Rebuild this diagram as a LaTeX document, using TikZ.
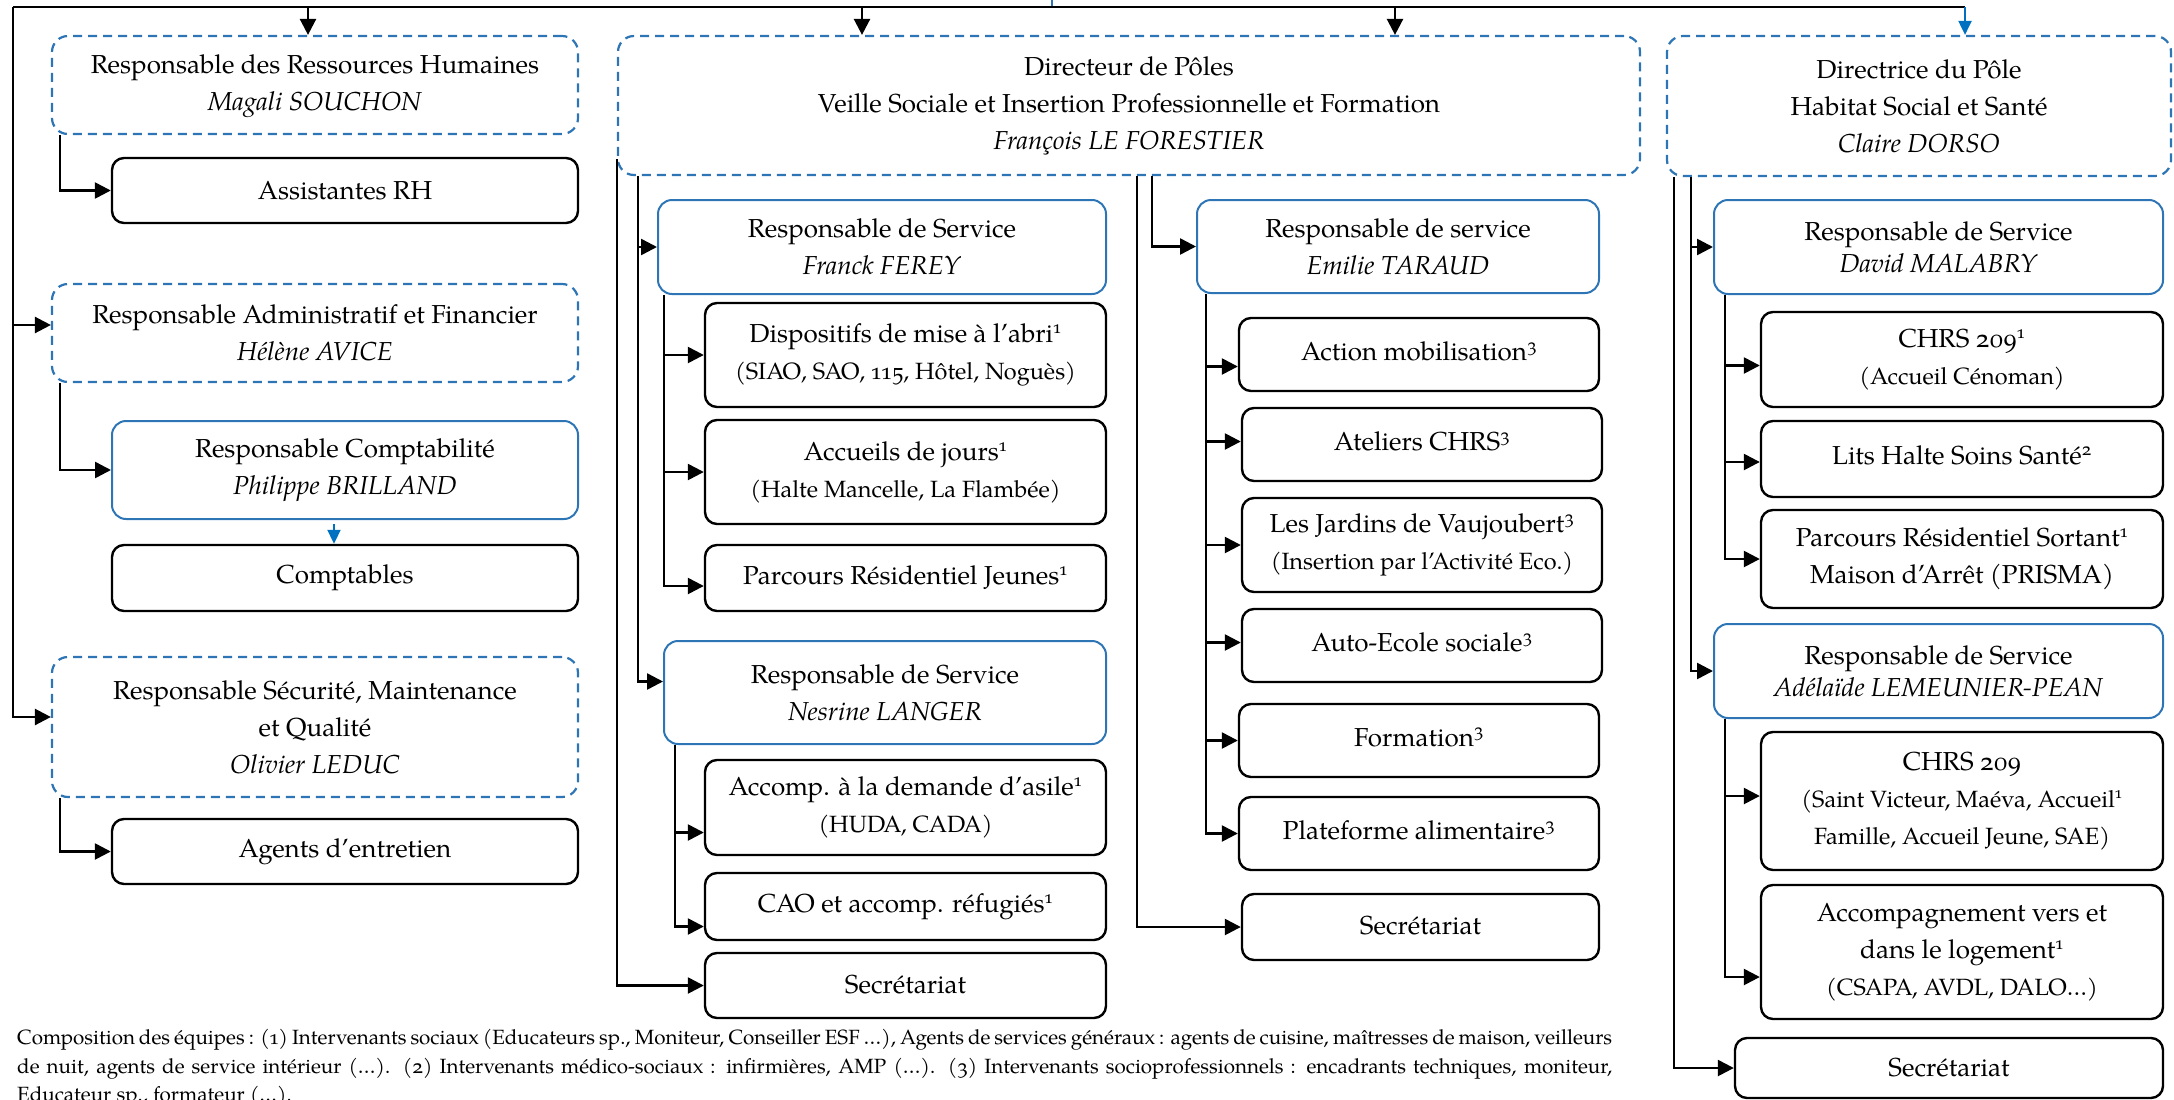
\documentclass[tikz,border=0pt]{standalone}
\usepackage{fontspec}
\setmainfont{texgyrepagella}[Extension=.otf, UprightFont=*-regular, ItalicFont=*-italic, BoldFont=*-bold, BoldItalicFont=*-bolditalic, Numbers=OldStyle]
\usetikzlibrary{arrows.meta}
\definecolor{dblue}{RGB}{46,117,182}
\definecolor{ablue}{RGB}{0,112,192}
\newcommand\mainfs{\fontsize{26}{37}\selectfont}
\newcommand\rfs{\fontsize{26}{32}\selectfont}
\newcommand\subfs{\fontsize{23.5}{33}\selectfont}
\newcommand\sups[1]{\textsuperscript{#1}}
\newcommand\bx[7]{\node[#6, minimum width={#4-#2}, minimum height={#5-#3}] (#1) at ({(#2+#4)/2},{(#3+#5)/2}) {#7};}
\tikzset{
  basebox/.style={rectangle, align=center, inner sep=0pt, font=\mainfs},
  blk/.style={basebox, draw=black, line width=2.4pt, rounded corners=12pt},
  bsol/.style={basebox, draw=dblue, line width=2pt, rounded corners=14pt},
  bdash/.style={basebox, draw=dblue, line width=2.2pt, dash pattern=on 9pt off 6pt, rounded corners=16pt},
  conn/.style={line width=2.5pt, -{Triangle[length=16pt,width=16pt]}},
  bconn/.style={line width=2pt, draw=ablue, -{Triangle[length=14pt,width=13pt]}, color=ablue},
}
\begin{document}
\begin{tikzpicture}[x=1pt,y=-1pt]
\useasboundingbox (0,0) rectangle (2174,1100);
% ---------- left column
\bx{rh}{52}{36}{578}{134}{bdash}{\raisebox{-3pt}{\begin{tabular}{@{}c@{}}Responsable des Ressources Humaines\\[0pt] \textit{Magali SOUCHON}\end{tabular}}}
\bx{asst}{112}{158}{578}{223}{blk}{Assistantes RH}
\bx{raf}{52}{284}{578}{382}{bdash}{Responsable Administratif et Financier\\ \textit{Hélène AVICE}}
\bx{rcomp}{112}{421}{578}{519}{bsol}{Responsable Comptabilité\\ \textit{Philippe BRILLAND}}
\bx{compt}{112}{545}{578}{611}{blk}{Comptables}
\bx{secu}{52}{657}{578}{797}{bdash}{Responsable Sécurité, Maintenance\\ et Qualité\\ \textit{Olivier LEDUC}}
\bx{agents}{112}{819}{578}{884}{blk}{Agents d’entretien}
% ---------- directeur
\bx{dir}{618}{36}{1640}{175}{bdash}{Directeur de Pôles\\ Veille Sociale et Insertion Professionnelle et Formation\\ \textit{François LE FORESTIER}}
\bx{ferey}{658}{200}{1106}{294}{bsol}{Responsable de Service\\ \textit{Franck FEREY}}
\bx{disp}{705}{303}{1106}{407}{blk}{Dispositifs de mise à l’abri\sups{1}\\ {\subfs (SIAO, SAO, 115, Hôtel, Noguès)}}
\bx{accj}{705}{420}{1106}{524}{blk}{Accueils de jours\sups{1}\\ {\subfs (Halte Mancelle, La Flambée)}}
\bx{prj}{705}{545}{1106}{611}{blk}{Parcours Résidentiel Jeunes\sups{1}}
\bx{langer}{664}{641}{1106}{744}{bsol}{Responsable de Service\\ \textit{Nesrine LANGER}}
\bx{asile}{705}{760}{1106}{855}{blk}{Accomp. à la demande d’asile\sups{1}\\ {\subfs (HUDA, CADA)}}
\bx{cao}{705}{873}{1106}{940}{blk}{\raisebox{3pt}{CAO et accomp. réfugiés\sups{1}}}
\bx{sec1}{705}{953}{1106}{1018}{blk}{\raisebox{3pt}{Secrétariat}}
% ---------- taraud
\bx{taraud}{1197}{200}{1599}{293}{bsol}{Responsable de service\\ \textit{Emilie TARAUD}}
\bx{mob}{1239}{318}{1599}{391}{blk}{\raisebox{6pt}{Action mobilisation\sups{3}}}
\bx{atel}{1242}{408}{1602}{481}{blk}{\raisebox{6pt}{Ateliers CHRS\sups{3}}}
\bx{jard}{1242}{498}{1602}{592}{blk}{Les Jardins de Vaujoubert\sups{3}\\ {\subfs (Insertion par l’Activité Eco.)}}
\bx{auto}{1242}{609}{1602}{682}{blk}{\raisebox{7pt}{Auto-Ecole sociale\sups{3}}}
\bx{form}{1239}{704}{1599}{777}{blk}{\raisebox{7pt}{Formation\sups{3}}}
\bx{plat}{1239}{797}{1599}{870}{blk}{\raisebox{6pt}{Plateforme alimentaire\sups{3}}}
\bx{sec2}{1242}{894}{1599}{960}{blk}{\raisebox{3pt}{Secrétariat}}
% ---------- directrice
\bx{dirc}{1667}{36}{2171}{176}{bdash}{Directrice du Pôle\\ Habitat Social et Santé\\ \textit{Claire DORSO}}
\bx{malab}{1714}{200}{2163}{294}{bsol,font=\rfs}{Responsable de Service\\ \textit{David MALABRY}}
\bx{chrs1}{1761}{312}{2163}{407}{blk}{CHRS 209\sups{1}\\ {\subfs (Accueil Cénoman)}}
\bx{lits}{1761}{421}{2163}{497}{blk}{\raisebox{7pt}{Lits Halte Soins Santé\sups{2}}}
\bx{prs}{1761}{510}{2163}{608}{blk}{Parcours Résidentiel Sortant\sups{1}\\ Maison d’Arrêt (PRISMA)}
\bx{lemeu}{1714}{624}{2163}{718}{bsol,font=\rfs}{Responsable de Service\\ \textit{Adélaïde LEMEUNIER-PEAN}}
\bx{chrs2}{1761}{732}{2163}{870}{blk}{CHRS 209\\ {\subfs (Saint Victeur, Maéva, Accueil\sups{1}}\\ {\subfs Famille, Accueil Jeune, SAE)}}
\bx{accomp}{1761}{885}{2163}{1019}{blk}{Accompagnement vers et\\ dans le logement\sups{1}\\ {\subfs (CSAPA, AVDL, DALO…)}}
\bx{sec3}{1735}{1038}{2163}{1098}{blk}{Secrétariat}
% ---------- footnote
\node[anchor=north west, inner sep=0pt, text width=1595pt, align=justify, font=\fontsize{20.6}{28.5}\selectfont] (note) at (17,1029)
{\emergencystretch=20pt Composition des équipes~: (1) Intervenants sociaux (Educateurs sp., Moniteur, Conseiller ESF …), Agents de services généraux~: agents de cuisine, maîtresses de maison, veilleurs\linebreak de nuit, agents de service intérieur (…). (2) Intervenants médico-sociaux~: infirmières, AMP (…). (3) Intervenants socioprofessionnels~: encadrants techniques, moniteur,\linebreak Educateur sp., formateur (…).};
% ---------- top connectors
\coordinate (src) at (1052,-2);
\coordinate (tl) at (13,7);
\coordinate (tr) at (1965,7);
\coordinate (t1) at (308,7);
\coordinate (t2) at (862,7);
\coordinate (t3) at (1395,7);
\draw[line width=1.6pt, draw=dblue] (src) -- (src |- tl);
\draw[line width=2.5pt] (tl) -- (tr);
\draw[conn] (t1) -- (t1 |- rh.north);
\draw[conn] (t2) -- (t2 |- dir.north);
\draw[conn] (t3) -- (t3 |- dir.north);
\draw[bconn] (tr) -- (tr |- dirc.north);
\draw[conn] (tl) |- ([yshift=8pt]raf.west);
\draw[conn] (tl) |- ([yshift=10pt]secu.west);
% ---------- left column connectors
\draw[conn] ([xshift=9pt]rh.south west) |- (asst.west);
\draw[conn] ([xshift=9pt]raf.south west) |- (rcomp.west);
\draw[bconn] ([xshift=-11pt,yshift=-4pt]rcomp.south) -- ([xshift=-11pt]compt.north);
\draw[conn] ([xshift=9pt]secu.south west) |- (agents.west);
% ---------- directeur connectors
\draw[conn] ([yshift=17pt]dir.south west) |- (sec1.west);
\draw[conn] ([xshift=21pt]dir.south west) |- (ferey.west);
\draw[conn] ([xshift=21pt]dir.south west) |- ([yshift=11pt]langer.west);
\draw[conn] ([xshift=7pt]ferey.south west) |- (disp.west);
\draw[conn] ([xshift=7pt]ferey.south west) |- (accj.west);
\draw[conn] ([xshift=7pt]ferey.south west) |- ([yshift=-8pt]prj.west);
\draw[conn] ([xshift=12pt]langer.south west) |- ([yshift=-25pt]asile.west);
\draw[conn] ([xshift=12pt]langer.south west) |- ([yshift=-20pt]cao.west);
\draw[conn] ([xshift=8pt]dir.south) |- (sec2.west);
\draw[conn] ([xshift=23pt]dir.south) |- (taraud.west);
\draw[conn] ([xshift=10pt]taraud.south west) |- ([yshift=-12pt]mob.west);
\draw[conn] ([xshift=10pt]taraud.south west) |- ([yshift=3pt]atel.west);
\draw[conn] ([xshift=10pt]taraud.south west) |- (jard.west);
\draw[conn] ([xshift=10pt]taraud.south west) |- ([yshift=3pt]auto.west);
\draw[conn] ([xshift=10pt]taraud.south west) |- (form.west);
\draw[conn] ([xshift=10pt]taraud.south west) |- (plat.west);
% ---------- directrice connectors
\draw[conn] ([xshift=8pt]dirc.south west) |- (sec3.west);
\draw[conn] ([xshift=25pt]dirc.south west) |- (malab.west);
\draw[conn] ([xshift=25pt]dirc.south west) |- (lemeu.west);
\draw[conn] ([xshift=12pt]malab.south west) |- ([yshift=-6pt]chrs1.west);
\draw[conn] ([xshift=12pt]malab.south west) |- ([yshift=-3pt]lits.west);
\draw[conn] ([xshift=12pt]malab.south west) |- (prs.west);
\draw[conn] ([xshift=12pt]lemeu.south west) |- ([yshift=5pt]chrs2.west);
\draw[conn] ([xshift=12pt]lemeu.south west) |- ([yshift=-25pt]accomp.west);
\end{tikzpicture}
\end{document}
